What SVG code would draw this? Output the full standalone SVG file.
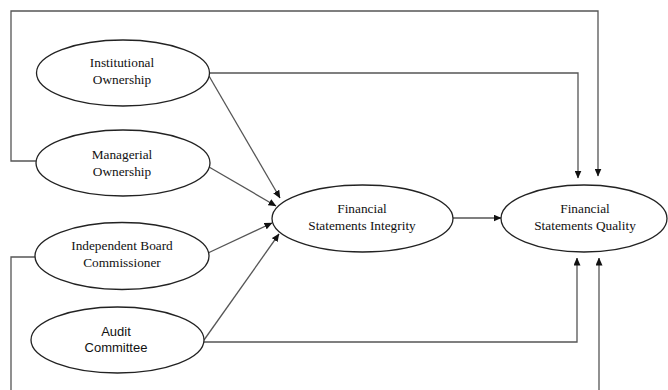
<svg xmlns="http://www.w3.org/2000/svg" width="668" height="390" viewBox="0 0 668 390">
<defs>
<marker id="ah" markerWidth="8" markerHeight="7" refX="7.5" refY="3.5" orient="auto" markerUnits="userSpaceOnUse">
<path d="M0,0 L8,3.5 L0,7 Z" fill="#111"/>
</marker>
<style>
.node ellipse{fill:#fff;stroke:#222;stroke-width:1.3}
.serif{font-family:"Liberation Serif","Times New Roman",serif;font-size:13.3px;fill:#111;text-anchor:middle}
.sans{font-family:"Liberation Sans",Arial,sans-serif;font-size:13px;fill:#111;text-anchor:middle}
#connectors path{fill:none;stroke:#555;stroke-width:1.3}
.arr{marker-end:url(#ah)}
</style>
</defs>
<rect width="668" height="390" fill="#fff"/>
<g id="connectors">
<path d="M36,161 L11,161 L11,11 L598,11 L598,176" class="arr"/>
<path d="M209,73 L578,73 L578,178" class="arr"/>
<path d="M209,76 L280,198" class="arr"/>
<path d="M209,167 L276,206" class="arr"/>
<path d="M208,253 L272,223" class="arr"/>
<path d="M204,340 L279,234" class="arr"/>
<path d="M204,342 L577,342 L577,258" class="arr"/>
<path d="M35,257 L11,257 L11,390"/>
<path d="M599,390 L599,258" class="arr"/>
<path d="M453,218 L501,218" class="arr"/>
</g>
<g id="institutional" class="node">
<ellipse cx="123" cy="73" rx="86.5" ry="33"/>
<text class="serif" x="122" y="67">Institutional</text>
<text class="serif" x="122" y="84">Ownership</text>
</g>
<g id="managerial" class="node">
<ellipse cx="123" cy="163" rx="87" ry="33"/>
<text class="serif" x="122" y="159">Managerial</text>
<text class="serif" x="122" y="176">Ownership</text>
</g>
<g id="independent" class="node">
<ellipse cx="122" cy="256" rx="87" ry="33.5"/>
<text class="serif" x="122" y="250">Independent Board</text>
<text class="serif" x="122" y="267">Commissioner</text>
</g>
<g id="audit" class="node">
<ellipse cx="117.5" cy="340" rx="86.5" ry="33"/>
<text class="sans" x="116" y="336">Audit</text>
<text class="sans" x="116" y="352">Committee</text>
</g>
<g id="fsi" class="node">
<ellipse cx="362.5" cy="218.5" rx="90.5" ry="33.5"/>
<text class="serif" x="362" y="213">Financial</text>
<text class="serif" x="362" y="230">Statements Integrity</text>
</g>
<g id="fsq" class="node">
<ellipse cx="584" cy="218.5" rx="83" ry="33.5"/>
<text class="serif" x="585" y="213">Financial</text>
<text class="serif" x="585" y="230">Statements Quality</text>
</g>
</svg>
